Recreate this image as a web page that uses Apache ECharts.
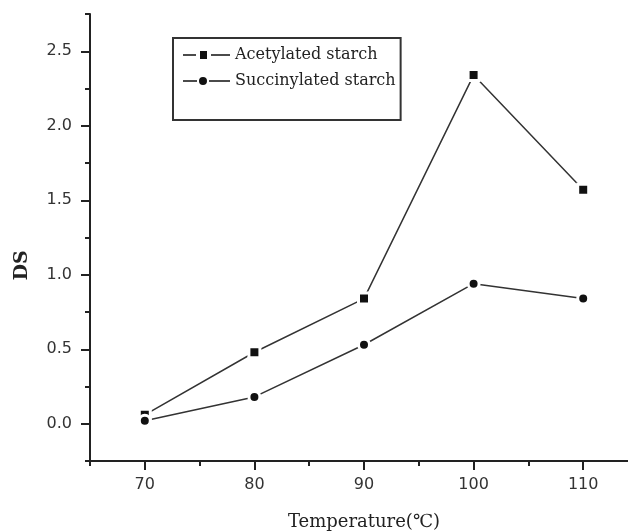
<!DOCTYPE html>
<html>
<head>
<meta charset="utf-8">
<script src="https://cdn.jsdelivr.net/npm/echarts@6/dist/echarts.min.js"></script>
<style>html,body{margin:0;padding:0;background:#fff;}#c{width:628px;height:532px;}</style>
</head>
<body>
<div id="c"></div>
<script>
const temperatures = [70, 80, 90, 100, 110];
const acetylated = [0.06, 0.48, 0.84, 2.34, 1.57];
const succinylated = [0.02, 0.18, 0.53, 0.94, 0.84];
const xMajorTicks = [70, 80, 90, 100, 110];
const xMinorTicks = [65, 75, 85, 95, 105, 115];
const yMajorTicks = [0, 0.5, 1.0, 1.5, 2.0, 2.5];
const yMinorTicks = [-0.25, 0.25, 0.75, 1.25, 1.75, 2.25, 2.75];
const seriesNames = ['Acetylated starch', 'Succinylated starch'];

const ink = '#222';
const labelFont = { fontFamily: 'DejaVu Sans', fontSize: 16, color: '#333' };
const squareIcon = 'path://M0 3.3H13V4.7H0Z M17 0H24V8H17Z M28 3.3H47V4.7H28Z';
const circleIcon = 'path://M0 3.3H14V4.7H0Z M16 4A4 4 0 1 0 24 4A4 4 0 1 0 16 4Z M26 3.3H47V4.7H26Z';

const chart = echarts.init(document.getElementById('c'), null, { renderer: 'canvas' });
chart.setOption({
  animation: false,
  backgroundColor: '#fff',
  grid: { left: 90, top: 14, width: 548, height: 447, containLabel: false, outerBoundsMode: 'none' },
  legend: {
    orient: 'vertical',
    left: 173, top: 38,
    padding: [9, 5, 31, 10],
    itemGap: 10,
    itemWidth: 47, itemHeight: 8,
    borderColor: '#333', borderWidth: 2,
    textStyle: { fontFamily: 'DejaVu Serif', fontSize: 16, color: ink },
    itemStyle: { borderWidth: 0 },
    data: [
      { name: seriesNames[0], icon: squareIcon },
      { name: seriesNames[1], icon: circleIcon }
    ]
  },
  xAxis: [{
    type: 'value', min: 65, max: 115,
    name: 'Temperature(℃)', nameLocation: 'middle', nameGap: 52,
    nameTextStyle: { fontFamily: 'DejaVu Serif', fontSize: 18, color: ink },
    axisLine: { show: true, onZero: false, lineStyle: { color: ink, width: 2 } },
    axisTick: { show: true, customValues: xMajorTicks, length: 9, lineStyle: { color: ink, width: 2 } },
    axisLabel: Object.assign({ customValues: xMajorTicks, margin: 16 }, labelFont),
    splitLine: { show: false }
  }, {
    type: 'value', min: 65, max: 115, position: 'bottom',
    axisLine: { show: false, onZero: false },
    axisTick: { show: true, customValues: xMinorTicks, length: 5, lineStyle: { color: ink, width: 2 } },
    axisLabel: { show: false },
    splitLine: { show: false }
  }],
  yAxis: [{
    type: 'value', min: -0.25, max: 2.75,
    name: 'DS', nameLocation: 'middle', nameGap: 58,
    nameTextStyle: { fontFamily: 'DejaVu Serif', fontSize: 19, fontWeight: 'bold', color: ink, padding: [0, 56, 0, 0] },
    axisLine: { show: true, onZero: false, lineStyle: { color: ink, width: 2 } },
    axisTick: { show: true, customValues: yMajorTicks, length: 9, lineStyle: { color: ink, width: 2 } },
    axisLabel: Object.assign({ customValues: yMajorTicks, margin: 18, formatter: v => v.toFixed(1) }, labelFont),
    splitLine: { show: false }
  }, {
    type: 'value', min: -0.25, max: 2.75, position: 'left',
    axisLine: { show: false, onZero: false },
    axisTick: { show: true, customValues: yMinorTicks, length: 5, lineStyle: { color: ink, width: 2 } },
    axisLabel: { show: false },
    splitLine: { show: false }
  }],
  series: [{
    name: seriesNames[0], type: 'line',
    data: temperatures.map((t, i) => [t, acetylated[i]]),
    symbol: 'rect', symbolSize: 11,
    lineStyle: { color: '#333', width: 1.5 },
    itemStyle: { color: '#111', borderColor: '#fff', borderWidth: 3 }
  }, {
    name: seriesNames[1], type: 'line',
    data: temperatures.map((t, i) => [t, succinylated[i]]),
    symbol: 'circle', symbolSize: 11,
    lineStyle: { color: '#333', width: 1.5 },
    itemStyle: { color: '#111', borderColor: '#fff', borderWidth: 3 }
  }]
});
</script>
</body>
</html>
